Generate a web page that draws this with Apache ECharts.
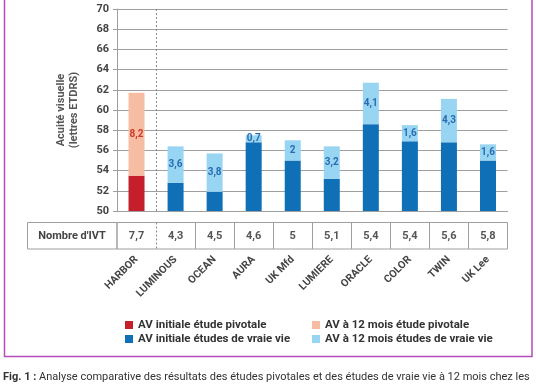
<!DOCTYPE html>
<html><head><meta charset="utf-8">
<script src="https://cdn.jsdelivr.net/npm/echarts@6/dist/echarts.min.js"></script>
<style>html,body{margin:0;padding:0;background:#fff}#c{width:536px;height:386px}</style>
</head><body><div id="c"></div>
<script>
const categories = ['HARBOR','LUMINOUS','OCEAN','AURA','UK Mfd','LUMIERE','ORACLE','COLOR','TWIN','UK Lee'];
const pivotalInitial = [53.5,'-','-','-','-','-','-','-','-','-'];
const realInitial = ['-',52.8,51.9,56.8,55.0,53.2,58.6,56.9,56.8,55.0];
const pivotalGain = [8.2,'-','-','-','-','-','-','-','-','-'];
const realGain = ['-',3.6,3.8,0.7,2,3.2,4.1,1.6,4.3,1.6];
const ivtCounts = ['7,7','4,3','4,5','4,6','5','5,1','5,4','5,4','5,6','5,8'];
const yMin = 50, yMax = 70, yStep = 2;

const FONT = 'Roboto';
const GRID_C = '#9f9f9f';
const fmt = p => String(p.value).replace('.', ',');

const chart = echarts.init(document.getElementById('c'), null, {renderer:'canvas'});
chart.setOption({
  animation:false,
  textStyle:{fontFamily:FONT},
  grid:[
    {left:117, right:28.5, top:9, height:202},
    {left:117, right:28.5, top:222.5, height:26.5, show:true, borderColor:GRID_C, borderWidth:1, backgroundColor:'transparent'}
  ],
  xAxis:[
    {gridIndex:0, type:'category', data:categories,
     axisLine:{lineStyle:{color:GRID_C}}, axisTick:{show:false}, axisLabel:{show:false},
     splitLine:{show:true, interval:(i)=>i<=1, showMinLine:false, showMaxLine:false, lineStyle:{color:'#888', type:[2,2]}}},
    {gridIndex:1, type:'category', data:categories, position:'bottom',
     axisLine:{show:false}, axisTick:{show:false},
     axisLabel:{interval:0, rotate:45, margin:9, fontSize:10.5, fontWeight:'bold', color:'#444'},
     splitLine:{show:true, interval:(i)=>i!==1, showMinLine:false, showMaxLine:false, lineStyle:{color:GRID_C}}},
    {gridIndex:1, type:'category', data:ivtCounts, position:'top',
     axisLine:{show:false}, axisTick:{show:false},
     axisLabel:{interval:0, inside:true, margin:8, fontSize:11, fontWeight:'bold', color:'#555'},
     splitLine:{show:true, interval:(i)=>i<=1, showMinLine:false, showMaxLine:false, lineStyle:{color:'#888', type:[2,2]}}}
  ],
  yAxis:[
    {gridIndex:0, type:'value', min:yMin, max:yMax, interval:yStep,
     name:'Acuité visuelle\n(lettres ETDRS)', nameLocation:'middle', nameGap:36, nameRotate:90,
     nameTextStyle:{fontSize:11, fontWeight:'bold', color:'#555', lineHeight:13},
     axisLine:{show:true, lineStyle:{color:GRID_C}},
     axisTick:{show:true, length:4, lineStyle:{color:GRID_C}},
     axisLabel:{fontSize:11, fontWeight:'bold', color:'#444', margin:8},
     splitLine:{lineStyle:{color:GRID_C}}},
    {gridIndex:1, type:'value', show:false}
  ],
  legend:[
    {left:120, top:314, orient:'vertical', itemWidth:8, itemHeight:8, itemGap:2, icon:'rect',
     data:['AV initiale étude pivotale','AV initiale études de vraie vie'],
     textStyle:{fontSize:11.5, fontWeight:'bold', color:'#333'}},
    {left:307, top:314, orient:'vertical', itemWidth:8, itemHeight:8, itemGap:2, icon:'rect',
     data:['AV à 12 mois étude pivotale','AV à 12 mois études de vraie vie'],
     textStyle:{fontSize:11.5, fontWeight:'bold', color:'#333'}}
  ],
  series:[
    {name:'AV initiale étude pivotale', type:'bar', stack:'av', barWidth:16, data:pivotalInitial, itemStyle:{color:'#c41f2b'}},
    {name:'AV initiale études de vraie vie', type:'bar', stack:'av', barWidth:16, data:realInitial, itemStyle:{color:'#0f6fb7'}},
    {name:'AV à 12 mois étude pivotale', type:'bar', stack:'av', barWidth:16, data:pivotalGain, itemStyle:{color:'#f7bda2'},
     label:{show:true, position:'inside', formatter:fmt, fontSize:10, fontWeight:'bold', color:'#d0392c'}},
    {name:'AV à 12 mois études de vraie vie', type:'bar', stack:'av', barWidth:16, data:realGain, itemStyle:{color:'#98d5f3'},
     label:{show:true, position:'inside', formatter:fmt, fontSize:10, fontWeight:'bold', color:'#2a6cb0'}}
  ],
  graphic:[
    {type:'rect', shape:{x:4.5, y:-10, width:527.5, height:366.5}, style:{fill:'none', stroke:'#b24cb6', lineWidth:1.5}, silent:true},
    {type:'rect', shape:{x:27.5, y:222.5, width:89.5, height:26.5}, style:{fill:'none', stroke:GRID_C, lineWidth:1}, silent:true},
    {type:'text', x:72, y:236, style:{text:"Nombre d'IVT", fontFamily:FONT, fontSize:11, fontWeight:'bold', fill:'#444', align:'center', verticalAlign:'middle'}},
    {type:'text', x:3, y:377, style:{
      text:'{b|Fig. 1 :} Analyse comparative des résultats des études pivotales et des études de vraie vie à 12 mois chez les',
      fontFamily:FONT, fontSize:11, fill:'#333', verticalAlign:'middle',
      rich:{b:{fontWeight:'bold', fontFamily:FONT, fontSize:11, fill:'#333'}}}}
  ]
});
</script></body></html>
